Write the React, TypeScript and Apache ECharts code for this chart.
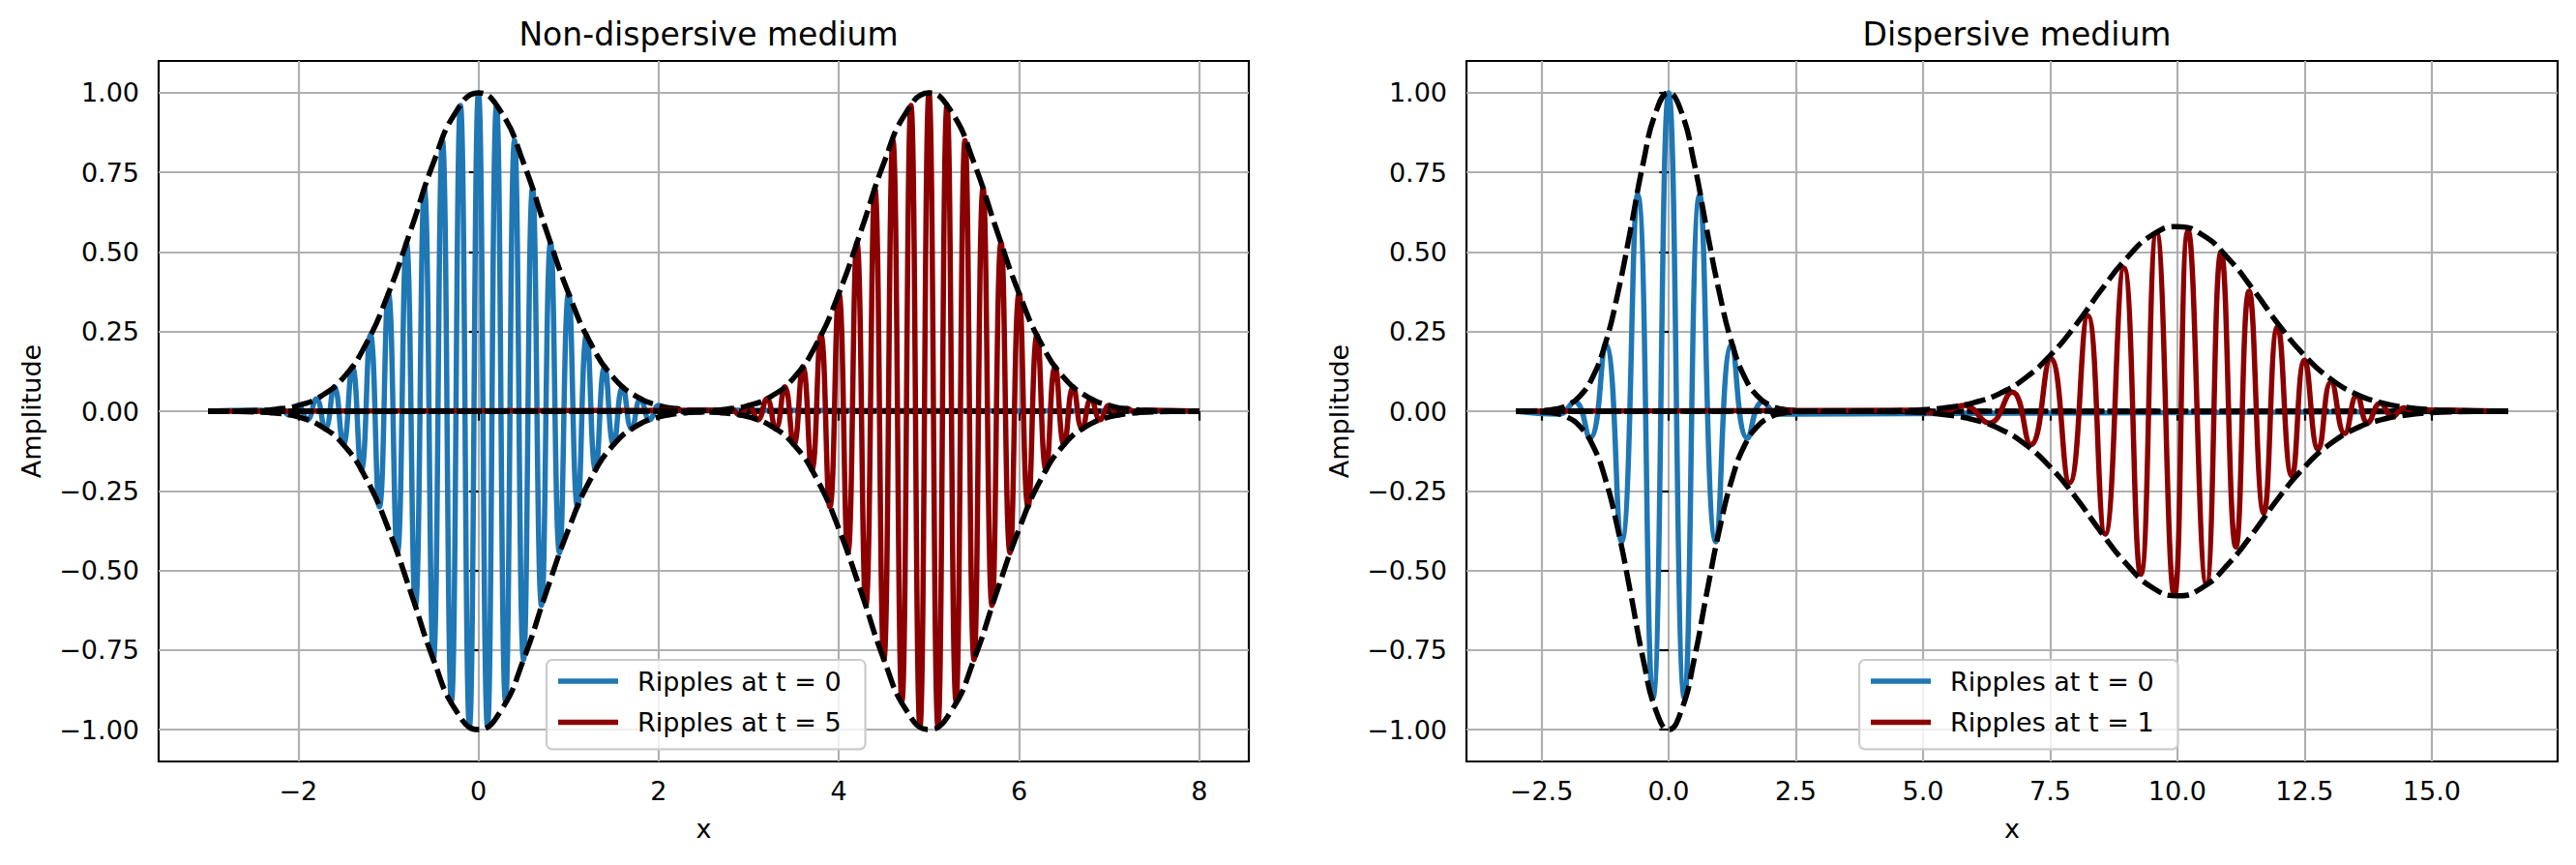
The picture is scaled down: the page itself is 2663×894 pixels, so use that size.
import React, { useEffect, useRef } from 'react';
import * as echarts from 'echarts';

// ---------- tick labels ----------
const LEFT_X_TICKS = [-2, 0, 2, 4, 6, 8];
const RIGHT_X_TICKS = [-2.5, 0, 2.5, 5, 7.5, 10, 12.5, 15];
const Y_TICKS = [-1, -0.75, -0.5, -0.25, 0, 0.25, 0.5, 0.75, 1];

// ---------- titles / legend names ----------
const TITLES = ['Non-dispersive medium', 'Dispersive medium'];
const LEFT_NAMES = ['Ripples at t = 0', 'Ripples at t = 5'];
const RIGHT_NAMES = ['Ripples at t = 0', 'Ripples at t = 1'];

// ---------- Left panel: ripple at t = 0 (peaks and troughs) ----------
const L0_X = [-3, -2.4, -2.3, -2.2, -2.1, -2.0, -1.9, -1.8, -1.7, -1.6, -1.5, -1.4, -1.3, -1.2, -1.1, -1.0,
  -0.9, -0.8, -0.7, -0.6, -0.5, -0.4, -0.3, -0.2, -0.1, 0, 0.1, 0.2, 0.3, 0.4, 0.5, 0.6, 0.7, 0.8, 0.9,
  1.0, 1.1, 1.2, 1.3, 1.4, 1.5, 1.6, 1.7, 1.8, 1.9, 2.0, 2.1, 2.2, 2.3, 2.4, 8];
const L0_Y = [0, 0.003, -0.005, 0.008, -0.012, 0.018, -0.027, 0.039, -0.056, 0.077, -0.105, 0.14, -0.185, 0.24,
  -0.3, 0.37, -0.445, 0.53, -0.61, 0.7, -0.78, 0.85, -0.91, 0.96, -0.99, 1.0, -0.99, 0.96, -0.91, 0.85, -0.78,
  0.7, -0.61, 0.53, -0.445, 0.37, -0.3, 0.24, -0.185, 0.14, -0.105, 0.077, -0.056, 0.039, -0.027, 0.018,
  -0.012, 0.008, -0.005, 0.003, 0];

// ---------- Left panel: ripple at t = 5 ----------
const L5_X = [-3, 2.6, 2.7, 2.8, 2.9, 3.0, 3.1, 3.2, 3.3, 3.4, 3.5, 3.6, 3.7, 3.8, 3.9, 4.0,
  4.1, 4.2, 4.3, 4.4, 4.5, 4.6, 4.7, 4.8, 4.9, 5.0, 5.1, 5.2, 5.3, 5.4, 5.5, 5.6, 5.7, 5.8, 5.9,
  6.0, 6.1, 6.2, 6.3, 6.4, 6.5, 6.6, 6.7, 6.8, 6.9, 7.0, 7.1, 7.2, 7.3, 7.4, 8];
const L5_Y = [0, 0.003, -0.005, 0.008, -0.012, 0.018, -0.027, 0.039, -0.056, 0.077, -0.105, 0.14, -0.185, 0.24,
  -0.3, 0.37, -0.445, 0.53, -0.61, 0.7, -0.78, 0.85, -0.91, 0.96, -0.99, 1.0, -0.99, 0.96, -0.91, 0.85, -0.78,
  0.7, -0.61, 0.53, -0.445, 0.37, -0.3, 0.24, -0.185, 0.14, -0.105, 0.077, -0.056, 0.039, -0.027, 0.018,
  -0.012, 0.008, -0.005, 0.003, 0];

// ---------- Left panel envelopes ----------
const LENV0_X = [-3, -2.75, -2.5, -2.25, -2, -1.75, -1.5, -1.25, -1, -0.75, -0.5, -0.25, 0,
  0.25, 0.5, 0.75, 1, 1.25, 1.5, 1.75, 2, 2.25, 2.5, 2.75, 3, 8];
const LENV0_Y = [0.0001, 0.0005, 0.002, 0.006, 0.018, 0.047, 0.105, 0.21, 0.37, 0.57, 0.78, 0.94, 1.0,
  0.94, 0.78, 0.57, 0.37, 0.21, 0.105, 0.047, 0.018, 0.006, 0.002, 0.0005, 0.0001, 0];
const LENV5_X = [-3, 2, 2.25, 2.5, 2.75, 3, 3.25, 3.5, 3.75, 4, 4.25, 4.5, 4.75, 5,
  5.25, 5.5, 5.75, 6, 6.25, 6.5, 6.75, 7, 7.25, 7.5, 7.75, 8];
const LENV5_Y = [0, 0.0001, 0.0005, 0.002, 0.006, 0.018, 0.047, 0.105, 0.21, 0.37, 0.57, 0.78, 0.94, 1.0,
  0.94, 0.78, 0.57, 0.37, 0.21, 0.105, 0.047, 0.018, 0.006, 0.002, 0.0005, 0.0001];

// ---------- Right panel: ripple at t = 0 ----------
const R0_X = [-3, -2.16, -1.85, -1.55, -1.24, -0.93, -0.61, -0.31, 0, 0.31, 0.61, 0.93, 1.24, 1.55, 1.85, 2.16, 16.5];
const R0_Y = [0, -0.009, 0.03, -0.085, 0.21, -0.41, 0.68, -0.9, 1.0, -0.9, 0.68, -0.41, 0.21, -0.085, 0.03, -0.009, 0];

// ---------- Right panel: ripple at t = 1 ----------
const R1_X = [-3, 4.8, 5.3, 5.81, 6.3, 6.75, 7.12, 7.51, 7.88, 8.24, 8.58, 8.95, 9.28, 9.59, 9.94, 10.21, 10.57,
  10.86, 11.15, 11.41, 11.7, 11.97, 12.25, 12.5, 12.77, 13.02, 13.29, 13.53, 13.74, 13.99, 14.23, 14.45, 14.66,
  14.87, 16.5];
const R1_Y = [0, 0.003, -0.007, 0.018, -0.037, 0.06, -0.105, 0.165, -0.225, 0.3, -0.386, 0.45, -0.512, 0.562,
  -0.578, 0.567, -0.542, 0.5, -0.426, 0.377, -0.32, 0.266, -0.204, 0.16, -0.12, 0.092, -0.07, 0.05, -0.036,
  0.025, -0.017, 0.011, -0.007, 0.004, 0];

// ---------- Right panel envelopes ----------
const RENV0_X = [-3, -2.75, -2.5, -2.25, -2, -1.75, -1.5, -1.25, -1, -0.75, -0.5, -0.25, 0,
  0.25, 0.5, 0.75, 1, 1.25, 1.5, 1.75, 2, 2.25, 2.5, 2.75, 3, 16.5];
const RENV0_Y = [0.0001, 0.0005, 0.002, 0.006, 0.018, 0.047, 0.105, 0.21, 0.37, 0.57, 0.78, 0.94, 1.0,
  0.94, 0.78, 0.57, 0.37, 0.21, 0.105, 0.047, 0.018, 0.006, 0.002, 0.0005, 0.0001, 0];
const RENV1_X = [-3, 4, 4.5, 5, 5.5, 6, 6.5, 7, 7.5, 8, 8.5, 9, 9.5, 10, 10.5, 11, 11.5, 12, 12.5, 13,
  13.5, 14, 14.5, 15, 15.5, 16, 16.5];
const RENV1_Y = [0, 0.0006, 0.0017, 0.0047, 0.012, 0.027, 0.055, 0.103, 0.175, 0.27, 0.38, 0.48, 0.553, 0.58,
  0.553, 0.48, 0.38, 0.27, 0.175, 0.103, 0.055, 0.027, 0.012, 0.0047, 0.0017, 0.0006, 0.0002];

const BLUE = '#1f77b4';
const DARKRED = '#8b0000';
const FONT = 'DejaVu Sans';

const LW = 5.5;
const DASH = [22, 7];

const pairs = (xs: number[], ys: number[], sign = 1) => xs.map((x, i) => [x, sign * ys[i]]);

function waveSeries(name: string, xs: number[], ys: number[], color: string, gi: number, z: number) {
  return {
    type: 'line', name, xAxisIndex: gi, yAxisIndex: gi, z,
    data: pairs(xs, ys), smooth: 0.5, symbol: 'none', showSymbol: false,
    lineStyle: { color, width: LW, cap: 'butt', join: 'round' }, itemStyle: { color },
    silent: true, animation: false,
  };
}
function envSeries(id: string, xs: number[], ys: number[], sign: number, gi: number, z: number) {
  return {
    type: 'line', id, xAxisIndex: gi, yAxisIndex: gi, z,
    data: pairs(xs, ys, sign), smooth: 0.5, symbol: 'none', showSymbol: false,
    lineStyle: { color: '#000', width: LW, type: DASH, dashOffset: sign > 0 ? 0 : 3.5, cap: 'butt' },
    itemStyle: { color: '#000' },
    silent: true, animation: false,
  };
}

const minus = (s: string) => s.replace('-', '\u2212');

function xAxis(gi: number, min: number, max: number, ticks: number[], dec: number) {
  return {
    type: 'value', gridIndex: gi, min, max,
    name: 'x', nameLocation: 'middle', nameGap: 56,
    nameTextStyle: { fontSize: 27, fontFamily: FONT, color: '#000' },
    axisLine: { show: false },
    axisTick: { show: true, inside: false, length: 9.7, customValues: ticks, lineStyle: { color: '#000', width: 2.2 } },
    axisLabel: {
      show: true, customValues: ticks, margin: 17, fontSize: 27, fontFamily: FONT, color: '#000',
      formatter: (v: number) => minus(v.toFixed(dec)),
    },
    splitLine: { show: true, customValues: ticks, lineStyle: { color: '#b0b0b0', width: 2.2 } },
  };
}
function yAxis(gi: number) {
  return {
    type: 'value', gridIndex: gi, min: -1.1, max: 1.1,
    name: 'Amplitude', nameLocation: 'middle', nameGap: 118, nameRotate: 90,
    nameTextStyle: { fontSize: 27, fontFamily: FONT, color: '#000' },
    axisLine: { show: false },
    axisTick: { show: true, inside: false, length: 9.7, customValues: Y_TICKS, lineStyle: { color: '#000', width: 2.2 } },
    axisLabel: {
      show: true, customValues: Y_TICKS, margin: 20, fontSize: 27, fontFamily: FONT, color: '#000',
      formatter: (v: number) => minus(v.toFixed(2)),
    },
    splitLine: { show: true, customValues: Y_TICKS, lineStyle: { color: '#b0b0b0', width: 2.2 } },
  };
}
function legend(left: number, names: string[]) {
  return {
    data: names, orient: 'vertical', left, top: 682, z: 20,
    icon: 'rect', itemWidth: 62, itemHeight: 5.5, itemGap: 12.4,
    selectedMode: false,
    textStyle: { fontSize: 27, fontFamily: FONT, color: '#000', lineHeight: 30, padding: [0, 0, 0, 15] },
    backgroundColor: 'rgba(255,255,255,0.8)', borderColor: '#cccccc', borderWidth: 2.2, borderRadius: 6,
    padding: [7, 25, 13, 12],
  };
}

export default function App() {
  const ref = useRef<HTMLDivElement>(null);
  useEffect(() => {
    if (!ref.current) return;
    const chart = echarts.init(ref.current, undefined, { renderer: 'svg' });
    const option = {
      animation: false,
      backgroundColor: '#ffffff',
      title: [
        { text: TITLES[0], left: 727.5, top: 14, textAlign: 'center',
          textStyle: { fontSize: 33, fontWeight: 'normal', fontFamily: FONT, color: '#000' } },
        { text: TITLES[1], left: 2080, top: 14, textAlign: 'center',
          textStyle: { fontSize: 33, fontWeight: 'normal', fontFamily: FONT, color: '#000' } },
      ],
      grid: [
        { left: 164, top: 63, width: 1127, height: 724, show: true, borderColor: '#000', borderWidth: 2.2, backgroundColor: 'transparent' },
        { left: 1516, top: 63, width: 1128, height: 724, show: true, borderColor: '#000', borderWidth: 2.2, backgroundColor: 'transparent' },
      ],
      xAxis: [xAxis(0, -3.55, 8.55, LEFT_X_TICKS, 0), xAxis(1, -3.975, 17.475, RIGHT_X_TICKS, 1)],
      yAxis: [yAxis(0), yAxis(1)],
      legend: [legend(565, LEFT_NAMES), legend(1922, RIGHT_NAMES)],
      series: [
        waveSeries(LEFT_NAMES[0], L0_X, L0_Y, BLUE, 0, 2),
        envSeries('le0p', LENV0_X, LENV0_Y, 1, 0, 3),
        envSeries('le0m', LENV0_X, LENV0_Y, -1, 0, 3),
        waveSeries(LEFT_NAMES[1], L5_X, L5_Y, DARKRED, 0, 4),
        envSeries('le5p', LENV5_X, LENV5_Y, 1, 0, 5),
        envSeries('le5m', LENV5_X, LENV5_Y, -1, 0, 5),
        waveSeries(RIGHT_NAMES[0], R0_X, R0_Y, BLUE, 1, 2),
        envSeries('re0p', RENV0_X, RENV0_Y, 1, 1, 3),
        envSeries('re0m', RENV0_X, RENV0_Y, -1, 1, 3),
        waveSeries(RIGHT_NAMES[1], R1_X, R1_Y, DARKRED, 1, 4),
        envSeries('re1p', RENV1_X, RENV1_Y, 1, 1, 5),
        envSeries('re1m', RENV1_X, RENV1_Y, -1, 1, 5),
      ],
    };
    chart.setOption(option as any);
    return () => chart.dispose();
  }, []);
  return <div ref={ref} style={{ position: 'absolute', left: 0, top: 0, width: 2663, height: 894 }} />;
}
